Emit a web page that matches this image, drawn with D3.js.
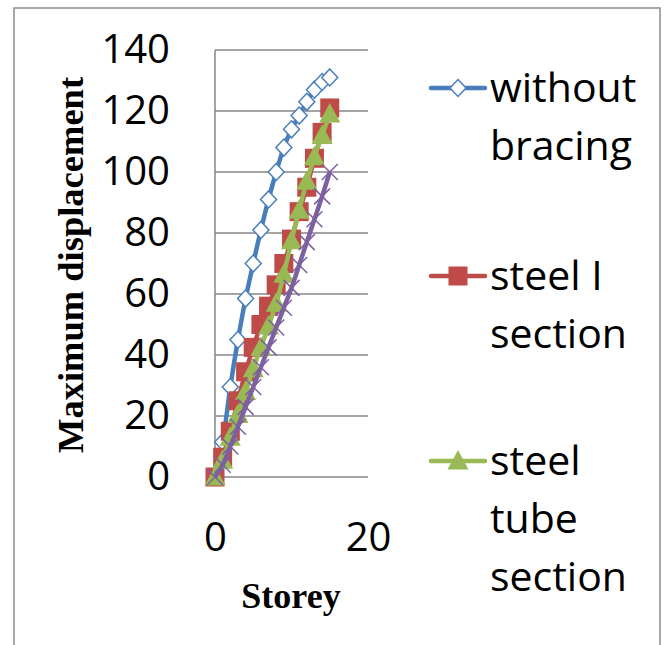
<!DOCTYPE html>
<html>
<head>
<meta charset="utf-8">
<script src="https://cdn.jsdelivr.net/npm/d3@7"></script>
<style>
  body { margin: 0; background: #fff; }
  svg { display: block; }
</style>
</head>
<body>
<svg id="chart"></svg>
<script>
// datos
const storeys = [0, 1, 2, 3, 4, 5, 6, 7, 8, 9, 10, 11, 12, 13, 14, 15];
const withoutBracing = [0, 11.5, 29.5, 45, 58.5, 70, 81, 91, 100, 108, 114, 118.5, 123, 127, 129.5, 131];
const steelI = [0, 6.5, 15, 25, 34.5, 42.5, 50, 56, 63, 70, 78, 87, 95, 104.5, 113, 121];
const steelTube = [0, 5.5, 13, 20.5, 28, 35.5, 42.5, 49.5, 57, 66.5, 77.5, 87.5, 97, 105, 112, 119];
const series4 = [0, 4, 10, 16.5, 23, 29.5, 36, 42.5, 49, 55.5, 62, 69.5, 77, 84.5, 92, 100];
const yTicks = [0, 20, 40, 60, 80, 100, 120, 140];
const xTicks = [0, 20];

const width = 666;
const height = 645;

const svg = d3.select("#chart")
    .attr("width", width)
    .attr("height", height);

// marco
svg.append("rect")
    .attr("x", 14).attr("y", 8)
    .attr("width", 646).attr("height", 660)
    .attr("fill", "none")
    .attr("stroke", "#8c8c8c")
    .attr("stroke-width", 1.5);

// escalas
const xScale = d3.scaleLinear().domain([0, 20]).range([215, 368]);
const yScale = d3.scaleLinear().domain([0, 140]).range([477, 50]);

const tickFont = "'Open Sans', sans-serif";

// rejilla
svg.append("g")
    .selectAll("line")
    .data(yTicks)
    .enter()
    .append("line")
    .attr("x1", xScale(0)).attr("x2", xScale(20))
    .attr("y1", d => yScale(d)).attr("y2", d => yScale(d))
    .attr("stroke", "#868686")
    .attr("stroke-width", 1.5);

svg.append("line")
    .attr("x1", xScale(0)).attr("x2", xScale(0))
    .attr("y1", yScale(0)).attr("y2", yScale(140))
    .attr("stroke", "#868686")
    .attr("stroke-width", 1.5);

// ejes
const yAxis = d3.axisLeft(yScale).tickValues(yTicks).tickSize(0).tickPadding(45);
const gy = svg.append("g")
    .attr("transform", `translate(${xScale(0)}, 0)`)
    .call(yAxis);
gy.select(".domain").remove();
gy.selectAll("text")
    .attr("font-family", tickFont)
    .attr("font-size", 40)
    .attr("fill", "#000");

const xAxis = d3.axisBottom(xScale).tickValues(xTicks).tickSize(0).tickPadding(46);
const gx = svg.append("g")
    .attr("transform", `translate(0, ${yScale(0)})`)
    .call(xAxis);
gx.select(".domain").remove();
gx.selectAll("text")
    .attr("font-family", tickFont)
    .attr("font-size", 40)
    .attr("fill", "#000");

// titulos
svg.append("text")
    .attr("x", 291).attr("y", 608)
    .attr("text-anchor", "middle")
    .attr("font-family", "'Liberation Serif', 'Times New Roman', serif")
    .attr("font-weight", "bold")
    .attr("font-size", 36)
    .text("Storey");

svg.append("text")
    .attr("transform", "translate(83, 265) rotate(-90)")
    .attr("text-anchor", "middle")
    .attr("font-family", "'Liberation Serif', 'Times New Roman', serif")
    .attr("font-weight", "bold")
    .attr("font-size", 36.5)
    .text("Maximum displacement");

// series
const series = [
    { name: ["without", "bracing"], values: withoutBracing, color: "#4A7EBB", symbol: "diamond" },
    { name: ["steel I", "section"], values: steelI, color: "#BE4B48", symbol: "square" },
    { name: ["steel", "tube", "section"], values: steelTube, color: "#98B954", symbol: "triangle" },
    { name: null, values: series4, color: "#7D60A0", symbol: "cross" }
];

const line = d3.line()
    .x(d => xScale(d[0]))
    .y(d => yScale(d[1]))
    .curve(d3.curveCatmullRom.alpha(0.5));

function drawMarker(g, symbol, color, x, y) {
    if (symbol === "diamond") {
        g.append("path")
            .attr("d", `M${x},${y - 8.5}L${x + 8},${y}L${x},${y + 8.5}L${x - 8},${y}Z`)
            .attr("fill", "#fff")
            .attr("stroke", color)
            .attr("stroke-width", 1.5);
    } else if (symbol === "square") {
        g.append("rect")
            .attr("x", x - 9.5).attr("y", y - 9.5)
            .attr("width", 19).attr("height", 19)
            .attr("fill", color);
    } else if (symbol === "triangle") {
        g.append("path")
            .attr("d", `M${x},${y - 11}L${x + 10.5},${y + 8.5}L${x - 10.5},${y + 8.5}Z`)
            .attr("fill", color);
    } else {
        g.append("path")
            .attr("d", `M${x - 8},${y - 8}L${x + 8},${y + 8}M${x - 8},${y + 8}L${x + 8},${y - 8}`)
            .attr("stroke", color)
            .attr("stroke-width", 1.5);
    }
}

series.forEach(s => {
    const pts = storeys.map((st, i) => [st, s.values[i]]);
    const g = svg.append("g");
    g.append("path")
        .datum(pts)
        .attr("d", line)
        .attr("fill", "none")
        .attr("stroke", s.color)
        .attr("stroke-width", 4.5);
    pts.forEach(p => drawMarker(g, s.symbol, s.color, xScale(p[0]), yScale(p[1])));
});

// leyenda
const legendY = [88, 276, 461];
series.filter(s => s.name).forEach((s, i) => {
    const g = svg.append("g");
    const y = legendY[i];
    g.append("line")
        .attr("x1", 431).attr("x2", 485)
        .attr("y1", y).attr("y2", y)
        .attr("stroke", s.color)
        .attr("stroke-width", 4.5)
        .attr("stroke-linecap", "round");
    drawMarker(g, s.symbol, s.color, 458, y);
    s.name.forEach((t, j) => {
        g.append("text")
            .attr("x", 490)
            .attr("y", y + 14 + j * 58)
            .attr("font-family", tickFont)
            .attr("font-size", 41)
            .attr("fill", "#000")
            .text(t);
    });
});
</script>
</body>
</html>
